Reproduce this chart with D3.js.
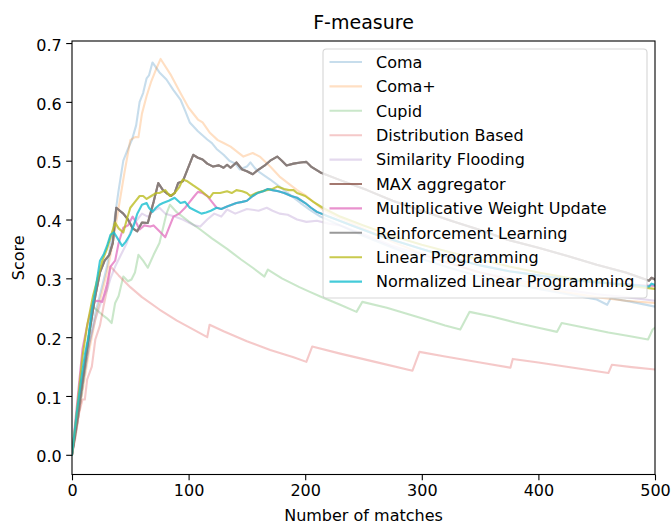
<!DOCTYPE html>
<html>
<head>
<meta charset="utf-8">
<script src="https://cdn.jsdelivr.net/npm/d3@7"></script>
<style>
  html, body { margin: 0; padding: 0; background: #fff; }
  svg { display: block; font-family: "DejaVu Sans", sans-serif; }
</style>
</head>
<body>
<svg id="chart" width="671" height="528"></svg>
<script>
const seriesNames = ["Coma", "Coma+", "Cupid", "Distribution Based", "Similarity Flooding",
  "MAX aggregator", "Multiplicative Weight Update", "Reinforcement Learning",
  "Linear Programming", "Normalized Linear Programming"];
const seriesColors = ["#1f77b4", "#ff7f0e", "#2ca02c", "#d62728", "#9467bd",
  "#8c564b", "#e377c2", "#7f7f7f", "#bcbd22", "#17becf"];
const seriesAlpha = [0.25, 0.25, 0.25, 0.25, 0.25, 0.8, 0.8, 0.8, 0.8, 0.8];

const xTicks = [0, 100, 200, 300, 400, 500];
const yTicks = [0.0, 0.1, 0.2, 0.3, 0.4, 0.5, 0.6, 0.7];

// [number of matches, score]
const coma = [[0,0],[5,0.06],[10,0.13],[15,0.19],[20,0.24],[25,0.28],[30,0.32],[35,0.38],[40,0.45],[44,0.50],[48,0.52],[51.5,0.536],[55,0.56],[58,0.60],[61,0.615],[64,0.64],[66,0.645],[69,0.667],[75,0.65],[81,0.638],[87,0.62],[93,0.604],[97,0.585],[101,0.565],[108,0.55],[116,0.536],[120,0.53],[124,0.52],[130,0.51],[135,0.50],[140,0.495],[144,0.485],[150,0.49],[153,0.497],[157,0.487],[161,0.48],[170,0.468],[178,0.456],[187,0.442],[196,0.428],[205,0.415],[213,0.405],[230,0.39],[250,0.372],[275,0.352],[300,0.333],[325,0.317],[350,0.303],[375,0.292],[400,0.282],[425,0.273],[450,0.264],[459,0.255],[462,0.266],[480,0.26],[500,0.252]];
const comaPlus = [[0,0],[5,0.06],[10,0.12],[15,0.18],[20,0.23],[25,0.27],[30,0.31],[35,0.36],[40,0.42],[45,0.48],[50,0.535],[54,0.54],[57,0.54],[60,0.58],[64,0.61],[68,0.635],[72,0.655],[76,0.673],[85,0.645],[93,0.615],[100,0.59],[108,0.57],[112,0.565],[118,0.548],[125,0.535],[130,0.53],[136,0.524],[147,0.507],[155,0.513],[161,0.507],[170,0.49],[178,0.473],[193,0.45],[201,0.44],[215,0.417],[227,0.405],[250,0.385],[275,0.362],[300,0.342],[325,0.325],[350,0.31],[375,0.297],[400,0.285],[425,0.276],[450,0.268],[475,0.262],[500,0.258]];
const cupid = [[0,0],[5,0.06],[10,0.13],[15,0.2],[18,0.252],[22,0.245],[26,0.238],[30,0.232],[34,0.224],[37,0.258],[40,0.27],[44,0.303],[48,0.295],[51,0.298],[54,0.31],[57,0.34],[61,0.33],[65,0.318],[70,0.34],[75,0.36],[81,0.41],[84,0.425],[90,0.412],[100,0.397],[110,0.383],[120,0.368],[133,0.35],[145,0.332],[155,0.318],[165,0.303],[168,0.315],[180,0.30],[195,0.285],[204,0.277],[213,0.269],[230,0.255],[244,0.243],[249,0.26],[270,0.25],[300,0.232],[320,0.22],[333,0.213],[341,0.243],[360,0.235],[380,0.225],[400,0.216],[416,0.209],[420,0.224],[440,0.216],[460,0.208],[480,0.201],[494,0.196],[498,0.213],[500,0.216]];
const distributionBased = [[0,0],[3,0.03],[6,0.07],[9,0.094],[11,0.094],[13,0.128],[17,0.15],[20,0.196],[24,0.22],[27,0.252],[30,0.28],[33,0.32],[40,0.305],[50,0.285],[60,0.268],[75,0.247],[90,0.228],[105,0.212],[116,0.2],[118,0.221],[130,0.21],[150,0.193],[170,0.178],[190,0.166],[201,0.158],[206,0.184],[230,0.172],[260,0.158],[292,0.143],[298,0.175],[320,0.167],[350,0.157],[376,0.148],[378,0.163],[400,0.157],[430,0.148],[460,0.139],[463,0.153],[480,0.149],[500,0.145]];
const similarityFlooding = [[0,0],[5,0.06],[10,0.13],[15,0.19],[20,0.23],[25,0.26],[30,0.28],[33,0.30],[37,0.32],[42,0.34],[47,0.36],[52,0.39],[56,0.40],[60,0.41],[65,0.405],[70,0.415],[75,0.42],[80,0.41],[88,0.405],[95,0.40],[100,0.395],[105,0.39],[110,0.388],[116,0.40],[122,0.41],[128,0.405],[133,0.417],[140,0.41],[150,0.418],[160,0.415],[167,0.42],[172,0.415],[178,0.41],[185,0.408],[193,0.40],[201,0.396],[210,0.398],[220,0.393],[230,0.39],[250,0.375],[275,0.355],[300,0.34],[325,0.325],[350,0.31],[375,0.30],[400,0.29],[425,0.28],[450,0.273],[475,0.268],[500,0.262]];
const maxAggregator = [[0,0],[5,0.07],[10,0.14],[15,0.21],[20,0.27],[24,0.31],[28,0.33],[32,0.34],[35,0.36],[38,0.42],[41,0.415],[44,0.41],[48,0.40],[52,0.385],[56,0.38],[60,0.395],[65,0.394],[70,0.43],[74,0.462],[78,0.45],[81,0.445],[85,0.44],[88,0.445],[91,0.462],[95,0.465],[100,0.49],[104,0.51],[108,0.505],[112,0.502],[116,0.495],[121,0.49],[126,0.492],[130,0.488],[133,0.493],[136,0.488],[141,0.497],[146,0.485],[150,0.482],[155,0.477],[160,0.485],[166,0.493],[170,0.5],[176,0.507],[180,0.5],[184,0.492],[190,0.495],[196,0.497],[201,0.498],[205,0.49],[213,0.48],[230,0.467],[253,0.45],[275,0.432],[300,0.415],[325,0.398],[350,0.382],[373,0.366],[400,0.352],[425,0.338],[450,0.323],[475,0.31],[495,0.296],[497,0.301],[500,0.298]];
const multiplicativeWeightUpdate = [[0,0],[4,0.08],[9,0.18],[13,0.22],[18,0.26],[22,0.262],[26,0.26],[30,0.29],[33,0.32],[37,0.33],[40,0.36],[44,0.386],[48,0.39],[52,0.405],[55,0.395],[58,0.383],[62,0.39],[67,0.388],[70,0.39],[75,0.38],[80,0.37],[84,0.39],[87,0.405],[92,0.41],[97,0.42],[101,0.43],[105,0.44],[108,0.447],[112,0.445],[116,0.44],[120,0.43],[124,0.42],[128,0.418],[133,0.422],[137,0.425],[141,0.428],[146,0.43],[150,0.432],[155,0.44],[159,0.445],[164,0.448],[168,0.452],[172,0.45],[177,0.448],[182,0.445],[188,0.44],[193,0.437],[200,0.428],[205,0.42],[210,0.413],[220,0.405],[240,0.39],[260,0.375],[280,0.362],[300,0.35],[325,0.335],[350,0.322],[375,0.312],[400,0.305],[425,0.298],[450,0.293],[475,0.29],[500,0.287]];
const reinforcementLearning = [[0,0],[5,0.07],[10,0.14],[15,0.21],[20,0.27],[24,0.31],[28,0.33],[32,0.34],[35,0.36],[38,0.42],[41,0.415],[44,0.41],[48,0.40],[52,0.385],[56,0.38],[60,0.395],[65,0.394],[70,0.43],[74,0.462],[78,0.45],[81,0.445],[85,0.44],[88,0.445],[91,0.462],[95,0.465],[100,0.49],[104,0.51],[108,0.505],[112,0.502],[116,0.495],[121,0.49],[126,0.492],[130,0.488],[133,0.493],[136,0.488],[141,0.497],[146,0.485],[150,0.482],[155,0.477],[160,0.485],[166,0.493],[170,0.5],[176,0.507],[180,0.5],[184,0.492],[190,0.495],[196,0.497],[201,0.498],[205,0.49],[213,0.48],[230,0.467],[253,0.45],[275,0.432],[300,0.415],[325,0.398],[350,0.382],[373,0.366],[400,0.352],[425,0.338],[450,0.323],[475,0.31],[495,0.296],[497,0.301],[500,0.298]];
const linearProgramming = [[0,0],[4,0.07],[9,0.167],[13,0.22],[18,0.27],[22,0.3],[26,0.33],[30,0.35],[33,0.37],[37,0.395],[40,0.385],[44,0.378],[47,0.4],[50,0.42],[54,0.43],[58,0.44],[61,0.44],[64,0.435],[68,0.44],[72,0.445],[75,0.445],[80,0.45],[84,0.44],[88,0.445],[92,0.455],[95,0.468],[99,0.465],[104,0.458],[110,0.45],[116,0.44],[118,0.437],[121,0.445],[127,0.445],[133,0.448],[137,0.445],[141,0.45],[146,0.448],[150,0.445],[153,0.44],[158,0.445],[163,0.448],[167,0.45],[172,0.452],[176,0.456],[182,0.452],[186,0.45],[190,0.45],[193,0.445],[200,0.44],[207,0.43],[215,0.42],[230,0.405],[250,0.39],[275,0.372],[300,0.357],[325,0.344],[350,0.332],[375,0.32],[400,0.31],[425,0.301],[450,0.294],[475,0.288],[500,0.282]];
const normalizedLinearProgramming = [[0,0],[4,0.07],[8,0.13],[11,0.17],[14,0.2],[17,0.247],[20,0.28],[24,0.33],[27,0.34],[30,0.355],[33,0.374],[36,0.378],[40,0.365],[43,0.355],[46,0.362],[50,0.375],[53,0.39],[56,0.41],[60,0.425],[64,0.428],[66,0.42],[69,0.413],[72,0.42],[75,0.425],[78,0.428],[83,0.432],[88,0.437],[93,0.428],[97,0.43],[101,0.42],[106,0.415],[111,0.41],[115,0.412],[119,0.415],[124,0.42],[128,0.418],[133,0.422],[137,0.425],[141,0.428],[146,0.43],[150,0.432],[155,0.44],[159,0.445],[164,0.448],[168,0.452],[172,0.45],[177,0.448],[182,0.445],[188,0.44],[193,0.437],[200,0.428],[205,0.42],[210,0.413],[220,0.405],[240,0.39],[260,0.375],[280,0.362],[300,0.35],[325,0.335],[350,0.322],[375,0.312],[400,0.305],[425,0.298],[450,0.293],[475,0.29],[495,0.286],[497,0.291],[500,0.289]];

const seriesData = [coma, comaPlus, cupid, distributionBased, similarityFlooding,
  maxAggregator, multiplicativeWeightUpdate, reinforcementLearning,
  linearProgramming, normalizedLinearProgramming];

const svg = d3.select("#chart");
const M = { left: 72, right: 655, top: 41, bottom: 474.5 };

const x = d3.scaleLinear().domain([0, 500]).range([M.left, M.right]);
const y = d3.scaleLinear().domain([-0.0335, 0.7035]).range([M.bottom, M.top]);

svg.append("defs").append("clipPath").attr("id", "clip")
  .append("rect").attr("x", M.left).attr("y", M.top)
  .attr("width", M.right - M.left).attr("height", M.bottom - M.top);

const line = d3.line().x(d => x(d[0])).y(d => y(d[1]));
const plot = svg.append("g").attr("clip-path", "url(#clip)");
seriesData.forEach((s, i) => {
  plot.append("path").datum(s)
    .attr("d", line)
    .attr("fill", "none")
    .attr("stroke", seriesColors[i])
    .attr("stroke-opacity", seriesAlpha[i])
    .attr("stroke-width", 2.1)
    .attr("stroke-linejoin", "round")
    .attr("stroke-linecap", "square");
});

// axes
const fs = 16;
const xAxis = d3.axisBottom(x).tickValues(xTicks).tickSize(5.8).tickPadding(4.5).tickFormat(d3.format("d"));
const gx = svg.append("g").attr("transform", `translate(0,${M.bottom})`).call(xAxis);
const yAxis = d3.axisLeft(y).tickValues(yTicks).tickSize(5.8).tickPadding(4.5).tickFormat(d3.format(".1f"));
const gy = svg.append("g").attr("transform", `translate(${M.left},0)`).call(yAxis);
[gx, gy].forEach(g => {
  g.select(".domain").remove();
  g.selectAll(".tick line").attr("stroke", "#000").attr("stroke-width", 1.1);
  g.selectAll(".tick text").attr("fill", "#000").style("font-size", fs + "px").style("font-family", "DejaVu Sans");
});
gy.selectAll(".tick text").attr("dy", "0.45em");

// spines
svg.append("rect").attr("x", M.left).attr("y", M.top)
  .attr("width", M.right - M.left).attr("height", M.bottom - M.top)
  .attr("fill", "none").attr("stroke", "#000").attr("stroke-width", 1.1);

// title and labels
svg.append("text").attr("x", (M.left + M.right) / 2).attr("y", 29)
  .attr("text-anchor", "middle").style("font-size", "19px").attr("fill", "#000").text("F-measure");
svg.append("text").attr("x", (M.left + M.right) / 2).attr("y", 521)
  .attr("text-anchor", "middle").style("font-size", fs + "px").attr("fill", "#000").text("Number of matches");
svg.append("text").attr("transform", `translate(24,${(M.top + M.bottom) / 2}) rotate(-90)`)
  .attr("text-anchor", "middle").style("font-size", fs + "px").attr("fill", "#000").text("Score");

// legend
const legX = 323, legY = 49, legW = 324, legH = 249, rowH = 24.4;
const leg = svg.append("g");
leg.append("rect").attr("x", legX).attr("y", legY).attr("width", legW).attr("height", legH)
  .attr("rx", 3.5).attr("fill", "#fff").attr("fill-opacity", 0.8)
  .attr("stroke", "#cccccc").attr("stroke-opacity", 0.8).attr("stroke-width", 1.1);
seriesNames.forEach((name, i) => {
  const cy = legY + 13 + i * rowH;
  leg.append("line").attr("x1", legX + 6.5).attr("x2", legX + 39).attr("y1", cy).attr("y2", cy)
    .attr("stroke", seriesColors[i]).attr("stroke-opacity", seriesAlpha[i]).attr("stroke-width", 2.1);
  leg.append("text").attr("x", legX + 53).attr("y", cy).attr("dy", "0.36em")
    .style("font-size", fs + "px").attr("fill", "#000").text(name);
});
</script>
</body>
</html>
